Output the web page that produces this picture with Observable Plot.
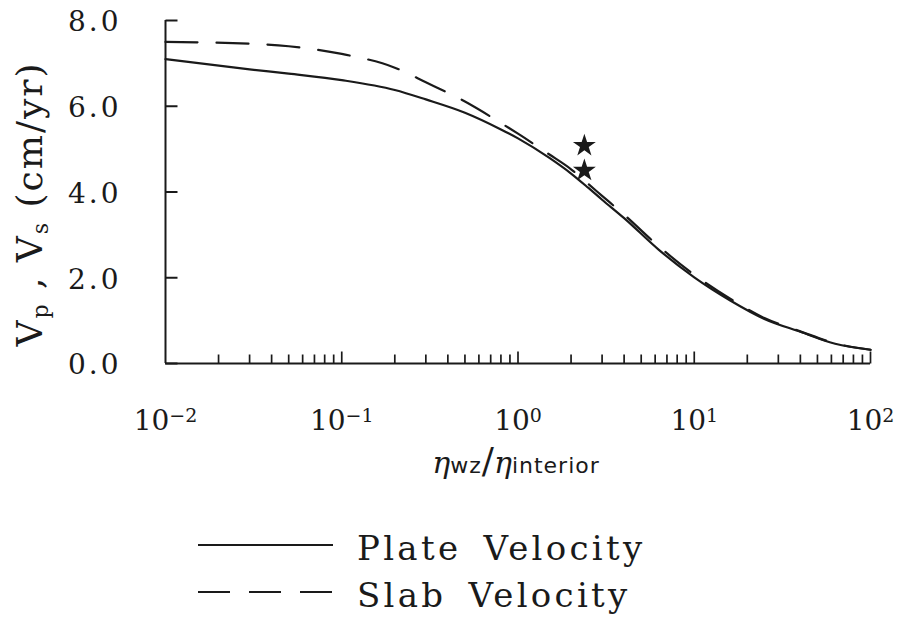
<!DOCTYPE html>
<html><head><meta charset="utf-8">
<script src="https://cdn.jsdelivr.net/npm/d3@7"></script>
<script src="https://cdn.jsdelivr.net/npm/@observablehq/plot@0.6"></script>
<style>
html,body{margin:0;padding:0;background:#fff;}
#chart svg{display:block;}
</style>
</head><body><div id="chart"></div>
<script>
// viscosity ratio eta_wz / eta_interior
const ratio = [0.01, 0.03, 0.05, 0.1, 0.2, 0.3, 0.5, 0.8, 1, 1.5, 2, 2.5, 3, 4, 6.3, 10, 16, 25, 40, 63, 100];
// plate velocity (cm/yr)
const plateV = [7.10, 6.86, 6.76, 6.61, 6.38, 6.16, 5.85, 5.46, 5.25, 4.80, 4.43, 4.10, 3.82, 3.39, 2.65, 2.01, 1.47, 1.04, 0.74, 0.46, 0.32];
// slab velocity (cm/yr)
const slabV  = [7.50, 7.46, 7.40, 7.22, 6.90, 6.56, 6.11, 5.61, 5.36, 4.88, 4.53, 4.19, 3.91, 3.47, 2.73, 2.07, 1.51, 1.06, 0.75, 0.47, 0.32];
// observed values (stars)
const starRatio = [2.38, 2.38];
const starV = [5.08, 4.50];
// ticks
const yTicks = [0, 2, 4, 6, 8];
const xLabelTicks = [0.01, 0.1, 1, 10, 100];
const xMajorTicks = [0.1, 1, 10, 100];
const xMinorTicks = [0.02,0.03,0.04,0.05,0.06,0.07,0.08,0.09, 0.2,0.3,0.4,0.5,0.6,0.7,0.8,0.9, 2,3,4,5,6,7,8,9, 20,30,40,50,60,70,80,90];
const seriesNames = ["Plate Velocity", "Slab Velocity"];

const ink = "#1a1a1a";
const plate = ratio.map((r, i) => ({r, v: plateV[i]}));
const slab = ratio.map((r, i) => ({r, v: slabV[i]}));
const stars = starRatio.map((r, i) => ({r, v: starV[i]}));

// inward tick glyphs (drawn at scale positions)
const tickUp = len => ({draw(ctx) { ctx.moveTo(0, 0); ctx.lineTo(0, -len); }});
const tickRight = len => ({draw(ctx) { ctx.moveTo(0, 0); ctx.lineTo(len, 0); }});

const plot = Plot.plot({
  width: 902, height: 500,
  marginLeft: 165, marginRight: 32, marginTop: 20, marginBottom: 137,
  style: {background: "#fff", color: ink, fontFamily: "DejaVu Serif"},
  x: {type: "log", domain: [0.01, 100]},
  y: {domain: [0, 8]},
  marks: [
    Plot.ruleX([0.01], {stroke: ink, strokeWidth: 2}),
    Plot.ruleY([0], {stroke: ink, strokeWidth: 2}),
    Plot.dot(yTicks, {x: 0.01, y: d => d, symbol: tickRight(12), fill: "none", stroke: ink, strokeWidth: 2}),
    Plot.dot(xMinorTicks, {x: d => d, y: 0, symbol: tickUp(9), fill: "none", stroke: ink, strokeWidth: 1.7}),
    Plot.dot(xMajorTicks, {x: d => d, y: 0, symbol: tickUp(12), fill: "none", stroke: ink, strokeWidth: 1.7}),
    Plot.axisY({ticks: yTicks, tickSize: 0, tickPadding: 44, dy: 2, tickFormat: d3.format(".1f"), fontSize: 28, label: null}),
    Plot.axisX({ticks: xLabelTicks, tickSize: 0, tickPadding: 47, tickFormat: d => String(Math.round(Math.log10(d))), fontSize: 28, label: null}),
    Plot.line(slab, {x: "r", y: "v", stroke: ink, strokeWidth: 2.2, strokeDasharray: "32,19", curve: "monotone-x"}),
    Plot.line(plate, {x: "r", y: "v", stroke: ink, strokeWidth: 2.2, curve: "monotone-x"}),
    Plot.dot(stars, {x: "r", y: "v", symbol: "star", r: 7.2, fill: ink, stroke: null})
  ]
});

const svg = d3.select(plot);
// superscript exponents on x tick labels
svg.selectAll('g[aria-label="x-axis tick label"] text').each(function() {
  const e = this.textContent;
  const t = d3.select(this);
  t.text("10");
  t.append("tspan").attr("dy", "-0.42em").attr("font-size", 19).text(e.replace("-", "\u2212"));
});
svg.selectAll('g[aria-label="y-axis tick label"] text').style("letter-spacing", "3px");

// x axis title
const xt = svg.append("text").attr("x", 516).attr("y", 473).attr("text-anchor", "middle").attr("fill", ink);
xt.append("tspan").attr("font-family", "DejaVu Serif").attr("font-style", "italic").attr("font-size", 30).text("\u03B7");
xt.append("tspan").attr("font-family", "DejaVu Sans").attr("font-size", 22).style("letter-spacing", "1px").text("wz");
xt.append("tspan").attr("font-family", "DejaVu Serif").attr("font-size", 36).text("/");
xt.append("tspan").attr("font-family", "DejaVu Serif").attr("font-style", "italic").attr("font-size", 30).text("\u03B7");
xt.append("tspan").attr("font-family", "DejaVu Sans").attr("font-size", 22).style("letter-spacing", "1px").text("interior");

// y axis title
const yt = svg.append("text").attr("transform", "translate(42,204) rotate(-90)")
  .attr("text-anchor", "middle").attr("fill", ink)
  .attr("font-family", "DejaVu Serif").attr("font-size", 36).style("letter-spacing", "2px");
yt.append("tspan").text("V");
yt.append("tspan").attr("font-size", 22).attr("dy", 6).text("p");
yt.append("tspan").attr("dy", -6).text(" , V");
yt.append("tspan").attr("font-size", 22).attr("dy", 6).text("s");
yt.append("tspan").attr("dy", -6).text(" (cm/yr)");

document.getElementById("chart").appendChild(plot);

// legend below the plot
const leg = d3.select("#chart").append("svg").attr("width", 902).attr("height", 120);
const dashFor = ["none", "32,19"];
seriesNames.forEach((name, i) => {
  const yLine = 45 + i * 47;
  leg.append("line").attr("x1", 198).attr("x2", 333).attr("y1", yLine).attr("y2", yLine)
    .attr("stroke", ink).attr("stroke-width", 2.2).attr("stroke-dasharray", dashFor[i]);
  leg.append("text").attr("x", 357).attr("y", yLine + 15)
    .attr("font-family", "DejaVu Serif").attr("font-size", 34).attr("fill", ink)
    .style("letter-spacing", "3.3px").style("word-spacing", "8px").text(name);
});
</script>
</body></html>
